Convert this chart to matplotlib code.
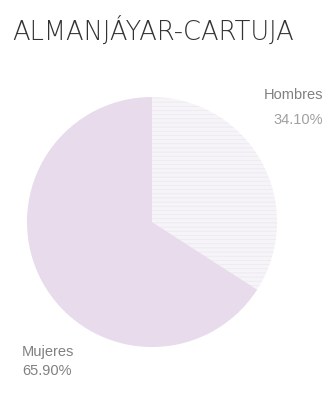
import matplotlib
matplotlib.use('Agg')
import matplotlib.pyplot as plt

title = "ALMANJÁYAR-CARTUJA"
labels = ["Hombres", "Mujeres"]
values = [34.10, 65.90]
colors = ["#f6f4f8", "#e7dbec"]

plt.rcParams['font.family'] = ['Liberation Sans', 'DejaVu Sans']
plt.rcParams['hatch.linewidth'] = 0.5

fig = plt.figure(figsize=(3.29, 3.94), dpi=100)
ax = fig.add_axes([0.082, 0.119, 0.76, 0.635])

wedges, _ = ax.pie(values, colors=colors, startangle=90, counterclock=False,
                   wedgeprops=dict(linewidth=0))
wedges[0].set_hatch('----')
wedges[0].set_edgecolor('#ebe8ee')
ax.set_xlim(-1, 1)
ax.set_ylim(-1, 1)
ax.axis('off')

fig.text(0.038, 0.922, title, fontsize=18.5, color='#333333', va='center', ha='left',
         family=['DejaVu Sans'], fontweight='light')

# etiquetas
fig.text(0.982, 0.758, labels[0], fontsize=10.5, color='#808080', ha='right', va='center')
fig.text(0.982, 0.696, f"{values[0]:.2f}%", fontsize=10.5,
         color='#a0a0a0', ha='right', va='center')
fig.text(0.067, 0.107, labels[1], fontsize=10.5, color='#808080', ha='left', va='center')
fig.text(0.067, 0.058, f"{values[1]:.2f}%", fontsize=10.5, color='#808080',
         ha='left', va='center')

plt.savefig('out.png', dpi=100)
